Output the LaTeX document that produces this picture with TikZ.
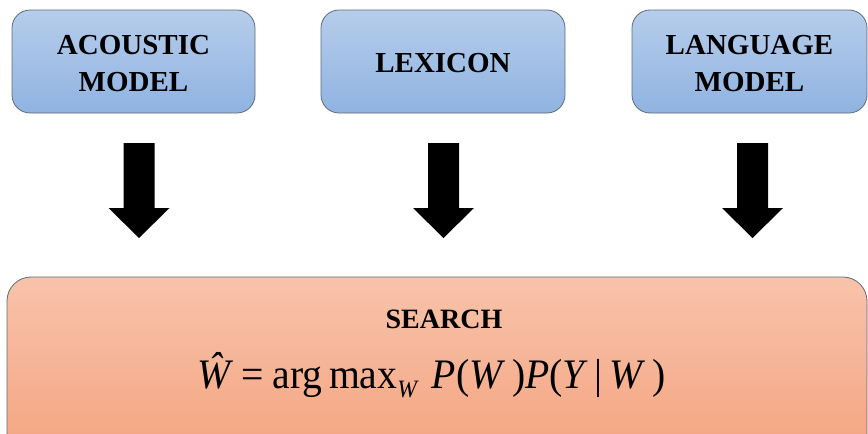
\documentclass[tikz,border=0pt]{standalone}
\usepackage{fontspec}
\setmainfont{Liberation Serif}
\usepackage{graphicx}
\definecolor{bluetop}{HTML}{B6CDEB}
\definecolor{bluebot}{HTML}{8FB3E1}
\definecolor{orgtop}{HTML}{F8C3AB}
\definecolor{orgbot}{HTML}{F4A480}
\definecolor{edge}{HTML}{5F6B7A}
\tikzset{
  modelbox/.style={draw=edge, line width=0.8pt, rounded corners=18pt,
    top color=bluetop, bottom color=bluebot, minimum height=103pt, inner sep=0pt},
  modeltext/.style={align=center, font=\bfseries\fontsize{29}{37}\selectfont, inner sep=0pt},
  searchbox/.style={draw=edge, line width=0.8pt, rounded corners=24pt,
    top color=orgtop, bottom color=orgbot, inner sep=0pt},
}
\newcommand{\mW}{\textit{W}}
\begin{document}
\begin{tikzpicture}[x=1pt, y=-1pt]
\useasboundingbox (0,0) rectangle (868,434);

% model boxes
\node[modelbox, minimum width=243pt] (ac) at (133.5,61.5) {};
\node[modelbox, minimum width=244pt] (lx) at (443,61.5) {};
\node[modelbox, minimum width=235pt] (lm) at (749.5,61.5) {};
\node[modeltext] (act) at ([yshift=-2.5pt]ac.center) {ACOUSTIC\\MODEL};
\node[modeltext] (lxt) at ([yshift=-2pt]lx.center) {LEXICON};
\node[modeltext] (lmt) at ([yshift=-2.5pt]lm.center) {LANGUAGE\\MODEL};

% search box (runs past the lower edge)
\node[searchbox, minimum width=860pt, minimum height=180pt] (sr) at (437,367) {};
\node[font=\bfseries\fontsize{28}{30}\selectfont, anchor=base, inner sep=0pt] (st) at (444,328)
  {SEARCH};
\node[font=\fontsize{42}{46}\selectfont, anchor=base west, inner sep=0pt] (eq) at (197,388)
  {\resizebox{468pt}{\height}{\textit{\^{W}}\hspace{9pt}=\hspace{9pt}arg\,max\raisebox{-9pt}{\fontsize{25}{28}\selectfont\mW}\hspace{14pt}\textit{P}(\mW\,)\textit{P}(\textit{Y}\,|\,\mW\,)}};

% block arrows
\foreach \cx/\nm in {139/a1, 443.5/a2, 752.5/a3} {
  \coordinate (\nm) at (\cx,143);
  \fill[black] ([xshift=-15.5pt]\nm) -- ([xshift=15.5pt]\nm)
    -- ([xshift=15.5pt,yshift=-65pt]\nm) -- ([xshift=30.5pt,yshift=-65pt]\nm)
    -- ([yshift=-95pt]\nm) -- ([xshift=-30.5pt,yshift=-65pt]\nm)
    -- ([xshift=-15.5pt,yshift=-65pt]\nm) -- cycle;
}
\end{tikzpicture}
\end{document}
